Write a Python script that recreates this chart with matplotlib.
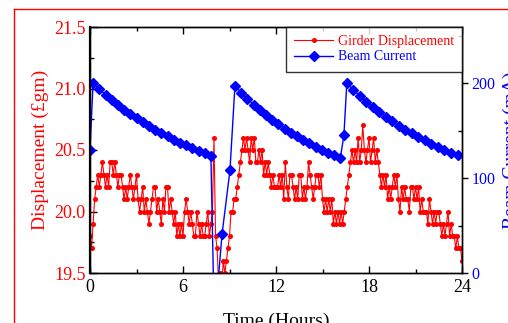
import numpy as np
import matplotlib
matplotlib.use("Agg")
import matplotlib.pyplot as plt
from matplotlib.lines import Line2D
from matplotlib.ticker import MultipleLocator, FormatStrFormatter

plt.rcParams['font.family'] = ['Liberation Serif', 'DejaVu Serif']

# girder displacement, one reading every 0.1 h (0.0 ... 24.0)
disp_time = np.linspace(0, 24, 241)
disp = [
    19.8, 19.7, 19.9, 20.1, 20.2, 20.3, 20.2, 20.3, 20.4, 20.3,   # 0 h
    20.2, 20.3, 20.2, 20.4, 20.4, 20.3, 20.4, 20.3, 20.2, 20.3,   # 1 h
    20.3, 20.2, 20.1, 20.2, 20.1, 20.2, 20.3, 20.2, 20.1, 20.2,   # 2 h
    20.3, 20.1, 20.0, 20.1, 20.2, 20.0, 20.1, 20.0, 19.9, 20.0,   # 3 h
    20.1, 20.2, 20.2, 20.0, 20.1, 20.0, 19.9, 20.1, 20.0, 20.2,   # 4 h
    20.2, 20.0, 20.1, 20.0, 19.9, 20.0, 19.8, 19.9, 19.8, 19.9,   # 5 h
    19.8, 20.0, 20.1, 20.0, 19.9, 20.0, 19.9, 19.8, 19.8, 20.0,   # 6 h
    19.9, 19.8, 19.9, 19.8, 19.8, 19.9, 20.0, 19.8, 19.9, 20.0,   # 7 h
    20.6, 19.8, 19.7, 19.4, 19.5, 19.4, 19.6, 19.5, 19.6, 19.7,   # 8 h
    19.8, 20.0, 20.0, 20.1, 20.1, 20.2, 20.3, 20.4, 20.5, 20.6,   # 9 h
    20.5, 20.6, 20.5, 20.4, 20.6, 20.5, 20.6, 20.4, 20.4, 20.5,   # 10 h
    20.4, 20.5, 20.3, 20.4, 20.3, 20.4, 20.3, 20.2, 20.3, 20.2,   # 11 h
    20.2, 20.2, 20.3, 20.2, 20.3, 20.1, 20.4, 20.2, 20.1, 20.3,   # 12 h
    20.3, 20.2, 20.1, 20.2, 20.1, 20.3, 20.3, 20.1, 20.2, 20.1,   # 13 h
    20.2, 20.4, 20.3, 20.2, 20.1, 20.2, 20.3, 20.3, 20.2, 20.3,   # 14 h
    20.1, 20.0, 20.1, 20.0, 20.1, 20.0, 20.1, 19.9, 20.0, 19.9,   # 15 h
    20.0, 19.9, 20.0, 19.9, 20.0, 20.1, 20.2, 20.3, 20.4, 20.5,   # 16 h
    20.4, 20.5, 20.4, 20.6, 20.4, 20.5, 20.7, 20.5, 20.4, 20.5,   # 17 h
    20.6, 20.4, 20.5, 20.6, 20.4, 20.5, 20.4, 20.3, 20.2, 20.3,   # 18 h
    20.2, 20.3, 20.1, 20.2, 20.1, 20.2, 20.3, 20.2, 20.3, 20.1,   # 19 h
    20.0, 20.2, 20.1, 20.2, 20.1, 20.1, 20.0, 20.2, 20.2, 20.1,   # 20 h
    20.2, 20.1, 20.2, 20.0, 20.1, 20.0, 20.0, 20.0, 19.9, 20.1,   # 21 h
    20.0, 19.9, 20.0, 19.9, 20.0, 20.0, 19.9, 19.8, 19.9, 19.8,   # 22 h
    19.9, 20.0, 19.8, 19.9, 19.8, 19.8, 19.7, 19.8, 19.7, 19.7,   # 23 h
    19.6,
]

# beam current (mA)
cur_time = [
    0.0, 0.2, 0.6, 1.0, 1.4, 1.8, 2.2, 2.6, 3.0, 3.4, 3.8, 4.2, 4.6, 5.0,
    5.4, 5.8, 6.2, 6.6, 7.0, 7.4, 7.8,
    7.97, 8.25, 8.52, 9.03,
    9.35, 9.75, 10.15, 10.55, 10.95, 11.35, 11.75, 12.15, 12.55, 12.95,
    13.35, 13.75, 14.15, 14.55, 14.95, 15.35, 15.75, 16.15,
    16.38,
    16.57, 16.99, 17.41, 17.83, 18.25, 18.67, 19.09, 19.51, 19.93, 20.35,
    20.77, 21.19, 21.61, 22.03, 22.45, 22.87, 23.29, 23.71,
]
current = [
    130, 200, 193.7, 187.8, 182.2, 176.9, 172.0, 167.3, 162.8, 158.6, 154.6,
    150.8, 147.2, 143.8, 140.5, 137.3, 134.3, 131.4, 128.7, 126.0, 123.5,
    -12, -12, 41, 108,
    197, 190.0, 183.4, 177.3, 171.6, 166.3, 161.2, 156.5, 152.0, 147.8,
    143.8, 140.1, 136.5, 133.1, 129.8, 126.7, 123.8, 121.0,
    145,
    200, 193.0, 186.6, 180.5, 174.8, 169.5, 164.4, 159.7, 155.2, 151.0,
    147.0, 143.2, 139.6, 136.2, 132.9, 129.8, 126.8, 124.0,
]

fig = plt.figure(figsize=(5.08, 3.23), dpi=100)
ax = fig.add_axes([90 / 508, 50 / 323, 372 / 508, 246 / 323])
ax2 = ax.twinx()

# red frame of the original page, only top and left edges are visible
fx, fy = 13.5 / 508, 1 - 8.5 / 323
fig.add_artist(Line2D([fx, 1.0], [fy, fy], transform=fig.transFigure,
                      color='red', lw=1.0))
fig.add_artist(Line2D([fx, fx], [0.0, fy], transform=fig.transFigure,
                      color='red', lw=1.0))

l1, = ax.plot(disp_time, disp, color='red', lw=0.8, marker='o', ms=2.6,
              mec='red', mfc='red', label='Girder Displacement')
l2, = ax2.plot(cur_time, current, color='blue', lw=1.0, marker='D', ms=5,
               mec='blue', mfc='blue', label='Beam Current')

ax.set_xlim(0, 24)
ax.set_ylim(19.5, 21.5)
ax2.set_ylim(0, 259)

ax.xaxis.set_major_locator(MultipleLocator(6))
ax.xaxis.set_minor_locator(MultipleLocator(3))
ax.yaxis.set_major_locator(MultipleLocator(0.5))
ax.yaxis.set_minor_locator(MultipleLocator(0.25))
ax.yaxis.set_major_formatter(FormatStrFormatter('%.1f'))
ax2.yaxis.set_major_locator(MultipleLocator(100))
ax2.yaxis.set_minor_locator(MultipleLocator(50))

ax.tick_params(axis='both', which='both', direction='in', top=True)
ax.tick_params(which='major', length=5, width=1)
ax.tick_params(which='minor', length=3, width=1)
ax.tick_params(axis='x', labelsize=13, colors='black', pad=4)
ax.tick_params(axis='y', labelsize=13, labelcolor='red', pad=3)
ax2.tick_params(axis='y', which='major', direction='out', length=4, width=1,
                labelsize=11.5, labelcolor='blue', pad=3)
ax2.tick_params(axis='y', which='minor', direction='in', length=3, width=1)

for a in (ax, ax2):
    for s in a.spines.values():
        s.set_linewidth(1.0)
        s.set_color('black')
ax.spines['left'].set_linewidth(1.6)

ax.set_xlabel('Time (Hours)', fontsize=14, labelpad=12)
ax.set_ylabel('Displacement (£gm)', fontsize=14, color='red', labelpad=4)
ax2.set_ylabel('Beam Current (mA)', fontsize=14, color='blue', labelpad=5)

leg = ax2.legend(handles=[l1, l2], loc='upper right', borderaxespad=0,
                 fontsize=10, frameon=True, fancybox=False, borderpad=0.6,
                 handlelength=2.8, handletextpad=0.3, labelspacing=0.15)
leg.get_frame().set_edgecolor('black')
leg.get_frame().set_linewidth(1.0)
for txt, c in zip(leg.get_texts(), ['red', 'blue']):
    txt.set_color(c)

fig.savefig('out.png', dpi=100)
